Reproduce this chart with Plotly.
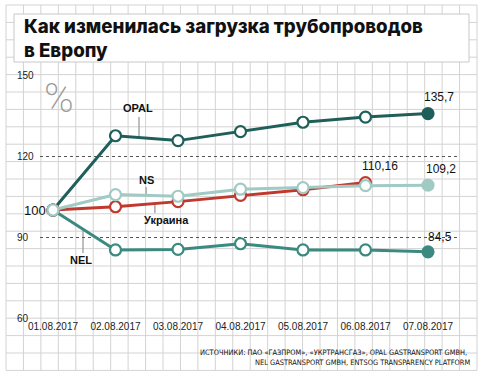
import plotly.graph_objects as go

W, H = 486, 380

dates = ["01.08.2017", "02.08.2017", "03.08.2017", "04.08.2017",
         "05.08.2017", "06.08.2017", "07.08.2017"]
opal = [100, 127.5, 125.7, 129.0, 132.5, 134.4, 135.7]
ns = [100, 105.7, 105.1, 107.7, 108.3, 109.0, 109.2]
ukraine = [100, 101.2, 103.1, 105.4, 107.5, 110.16]
nel = [100, 85.2, 85.4, 87.5, 85.2, 85.2, 84.5]
y_ticks = [60, 90, 120, 150]

C_OPAL = "#1f5f5a"
C_NS = "#a2cac4"
C_UKR = "#c0392f"
C_NEL = "#3b8a80"
GRID = "#d3d3d3"

def px(x):
    return x / W

def py(y):
    return 1 - y / H

x_idx = list(range(len(dates)))

fig = go.Figure()

def add_series(vals, color, name):
    n = len(vals)
    xs = x_idx[:n]
    last_filled = name != "ukr"
    fills = ["white"] * n
    if last_filled:
        fills[-1] = color
    fig.add_trace(go.Scatter(
        x=xs, y=vals, mode="lines+markers", name=name,
        line=dict(color=color, width=3),
        marker=dict(size=11, color=fills, line=dict(color=color, width=2.2)),
        cliponaxis=False, showlegend=False, hoverinfo="skip"))

add_series(nel, C_NEL, "nel")
add_series(opal, C_OPAL, "opal")
add_series(ukraine, C_UKR, "ukr")
add_series(ns, C_NS, "ns")

shapes = []
# background squared paper grid
gx0, gx1, gy0, gy1 = 6, 477, 5, 370.4
nxc, nyc = 27, 21
for k in range(nxc + 1):
    x = gx0 + (gx1 - gx0) * k / nxc
    shapes.append(dict(type="line", xref="paper", yref="paper",
                       x0=px(x), x1=px(x), y0=py(gy0), y1=py(gy1),
                       line=dict(color=GRID, width=1), layer="below"))
for k in range(nyc + 1):
    y = gy0 + (gy1 - gy0) * k / nyc
    shapes.append(dict(type="line", xref="paper", yref="paper",
                       x0=px(gx0), x1=px(gx1), y0=py(y), y1=py(y),
                       line=dict(color=GRID, width=1), layer="below"))
# title box
shapes.append(dict(type="rect", xref="paper", yref="paper",
                   x0=px(14), x1=px(469), y0=py(14), y1=py(62),
                   fillcolor="white", line=dict(color="#c8c8c8", width=1),
                   layer="below"))

# leader lines (data coords)
leaders = [
    (1.376, 126.8, 134.4),  # OPAL
    (1.49, 105.4, 108.5),   # NS
    (1.63, 102.4, 98.9),    # Украина
    (0.48, 92.9, 84.1),     # NEL
]
for lx, ly0, ly1 in leaders:
    shapes.append(dict(type="line", xref="x", yref="y",
                       x0=lx, x1=lx, y0=ly0, y1=ly1,
                       line=dict(color="#a8a8a8", width=1.5), layer="below"))

ann = []
TF = "Inter, Roboto, Liberation Sans, Arial, sans-serif"
ann.append(dict(text="Как изменилась загрузка трубопроводов<br>в Европу",
                x=px(23), y=py(39), align="left",
                xref="paper", yref="paper", xanchor="left", yanchor="middle",
                showarrow=False, borderpad=0,
                font=dict(family=TF, size=18.7, color="#111", weight=800)))
ann.append(dict(text="%", x=px(59), y=py(98), xref="paper", yref="paper",
                xanchor="center", yanchor="middle", showarrow=False,
                font=dict(family="Roboto, sans-serif", size=40, color="#9a9a9a", weight=200)))

LF = "Liberation Sans, Arial, sans-serif"
for v in y_ticks:
    ann.append(dict(text=str(v), x=px(15), y=v, xref="paper", yref="y",
                    xanchor="left", yanchor="middle", showarrow=False,
                    font=dict(family=LF, size=10, color="#222")))
ann.append(dict(text="100", x=px(22), y=100, xref="paper", yref="y",
                xanchor="left", yanchor="middle", showarrow=False,
                font=dict(family=LF, size=13, color="#111")))

def lab(text, x, y, size=11, bold=True):
    ann.append(dict(text=text, x=x, y=y, xref="x", yref="y",
                    xanchor="center", yanchor="middle", showarrow=False,
                    font=dict(family=LF, size=size, color="#111",
                              weight="bold" if bold else "normal")))

lab("OPAL", 1.36, 137.8)
lab("NS", 1.49, 111.1)
lab("Украина", 1.82, 96.3)
lab("NEL", 0.45, 81.5)

lab("135,7", 6.18, 141.9, 12, False)
lab("110,16", 5.23, 116.3, 12, False)
lab("109,2", 6.21, 115.2, 12, False)
lab("84,5", 6.19, 90.0, 12, False)

SF = "Liberation Sans Narrow, DejaVu Sans Condensed, Arial Narrow, sans-serif"
ann.append(dict(text="ИСТОЧНИКИ: ПАО «ГАЗПРОМ», «УКРТРАНСГАЗ», OPAL GASTRANSPORT GMBH,",
                x=px(469), y=py(352), xref="paper", yref="paper",
                xanchor="right", yanchor="middle", showarrow=False,
                font=dict(family=SF, size=7.4, color="#111")))
ann.append(dict(text="NEL GASTRANSPORT GMBH, ENTSOG TRANSPARENCY PLATFORM",
                x=px(472), y=py(362), xref="paper", yref="paper",
                xanchor="right", yanchor="middle", showarrow=False,
                font=dict(family=SF, size=7.4, color="#111")))

x_left, x_right = 40, 459
x0_px, step = 53, 62.5
xr = [(x_left - x0_px) / step, (x_right - x0_px) / step]

fig.update_layout(
    width=W, height=H,
    margin=dict(l=0, r=0, t=0, b=0, pad=0),
    paper_bgcolor="white", plot_bgcolor="rgba(0,0,0,0)",
    shapes=shapes, annotations=ann, hovermode=False,
    xaxis=dict(domain=[px(x_left), px(x_right)], range=xr,
               tickvals=x_idx, ticktext=dates, showgrid=False, zeroline=False,
               showline=False, ticks="", ticklabelstandoff=1, automargin=False,
               tickfont=dict(family=LF, size=10, color="#222")),
    yaxis=dict(domain=[py(318), py(75)], range=[60, 150],
               tickvals=y_ticks, showticklabels=False, showgrid=True,
               gridcolor="#555", griddash="dot", gridwidth=1, automargin=False,
               zeroline=False, showline=False, ticks=""),
)

fig.write_html("out.html", config={"displayModeBar": False},
               post_script="document.body.style.margin='0';document.body.style.padding='0';")
